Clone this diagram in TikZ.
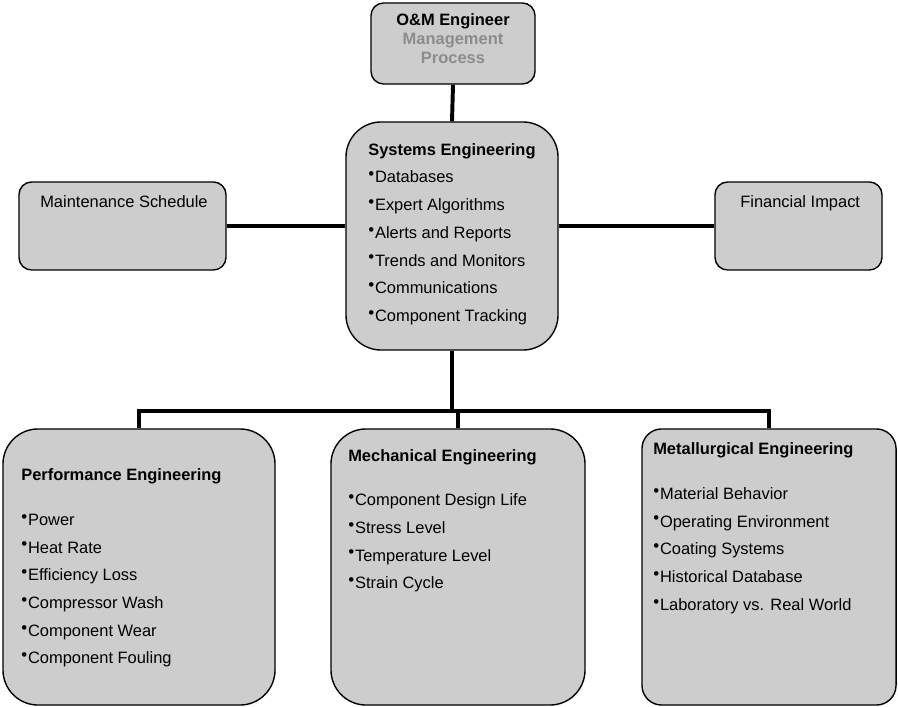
\documentclass[tikz,border=0pt]{standalone}
\usepackage{fontspec}
\setmainfont{Liberation Sans}
\usepackage{tikz}
\usetikzlibrary{calc}

\definecolor{boxgray}{RGB}{205,205,205}
\definecolor{txtgray}{RGB}{140,140,140}
\newcommand{\bul}{\raisebox{2.3pt}{\fontsize{12}{12}\selectfont\textbullet}\kern0.6pt}

\begin{document}
\begin{tikzpicture}[x=0.025cm,y=-0.025cm,
    box/.style={draw,line width=1pt,fill=boxgray,inner sep=0pt},
    conn/.style={line width=2.8pt},
    lst/.style={anchor=north west,align=left,inner sep=0pt,font=\fontsize{11.7}{19.7}\selectfont}]
  \useasboundingbox (0,0) rectangle (898,707);
  % boxes
  \node[box,rounded corners=9pt,minimum width=4.1cm,minimum height=2.025cm] (om) at (453,43.5) {};
  \node[box,rounded corners=25pt,minimum width=5.3cm,minimum height=5.7cm] (sys) at (452,236) {};
  \node[box,rounded corners=9pt,minimum width=5.175cm,minimum height=2.2cm] (maint) at (122.5,226) {};
  \node[box,rounded corners=9pt,minimum width=4.175cm,minimum height=2.2cm] (fin) at (798.5,226) {};
  \node[box,rounded corners=25pt,minimum width=6.8cm,minimum height=6.9cm] (perf) at (139,567) {};
  \node[box,rounded corners=25pt,minimum width=6.35cm,minimum height=6.9cm] (mech) at (458,567) {};
  \node[box,rounded corners=14pt,minimum width=6.35cm,minimum height=6.9cm] (metal) at (769,567) {};
  % connectors
  \draw[conn] (om.south) -- (sys.north);
  \draw[conn] (maint) -- (maint -| sys.west);
  \draw[conn] (fin) -- (fin -| sys.east);
  \draw[conn] (sys.south) -- ++(0,60) coordinate (bus);
  \draw[conn] (perf.north) |- (bus) -| (metal.north);
  \draw[conn] (mech.north) -- (mech.north |- bus);
  % texts
  \node[anchor=north,align=center,inner sep=0pt,font=\bfseries\fontsize{11.7}{13.5}\selectfont] (omtxt) at (453,13)
    {O\&M Engineer\\\textcolor{txtgray}{Management}\\\textcolor{txtgray}{Process}};
  \node[lst] (systxt) at (368,143) {\textbf{Systems Engineering}\\
    \bul Databases\\\bul Expert Algorithms\\\bul Alerts and Reports\\
    \bul Trends and Monitors\\\bul Communications\\\bul Component Tracking};
  \node[lst,anchor=base west] (mainttxt) at (40,208) {Maintenance Schedule};
  \node[lst,anchor=base west] (fintxt) at (740,208) {Financial Impact};
  \node[lst] (perftxt) at (21,468) {\textbf{Performance Engineering}\\[12.5pt]
    \bul Power\\\bul Heat Rate\\\bul Efficiency Loss\\\bul Compressor Wash\\
    \bul Component Wear\\\bul Component Fouling};
  \node[lst] (mechtxt) at (348,449) {\textbf{Mechanical Engineering}\\[12pt]
    \bul Component Design Life\\\bul Stress Level\\\bul Temperature Level\\\bul Strain Cycle};
  \node[lst] (metaltxt) at (653,442) {\textbf{Metallurgical Engineering}\\[12.5pt]
    \bul Material Behavior\\\bul Operating Environment\\\bul Coating Systems\\
    \bul Historical Database\\\bul Laboratory vs. Real World};
\end{tikzpicture}
\end{document}
